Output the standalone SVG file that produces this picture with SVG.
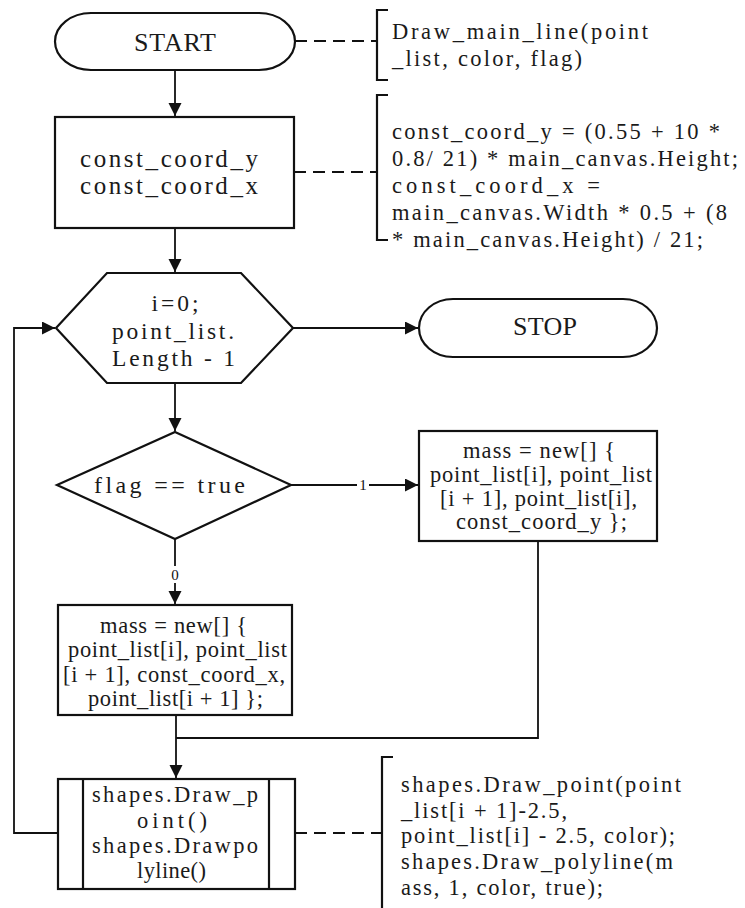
<svg xmlns="http://www.w3.org/2000/svg" width="745" height="908" viewBox="0 0 745 908">
<style>
  .shape { fill: #ffffff; stroke: #111111; stroke-width: 2.2; }
  .line { fill: none; stroke: #111111; stroke-width: 1.8; }
  .dash { fill: none; stroke: #111111; stroke-width: 2; stroke-dasharray: 12 7; }
  .brk { fill: none; stroke: #111111; stroke-width: 2.2; }
  .gap { fill: #ffffff; stroke: none; }
  text { font-family: "Liberation Serif", "Times New Roman", serif; fill: #1a1a1a; }
  .t26 { font-size: 26px; }
  .t25 { font-size: 25px; }
  .t24 { font-size: 24px; }
  .t23 { font-size: 23.5px; }
  .t22 { font-size: 22.5px; }
  .lbl { font-size: 15px; fill: #111111; }
  .mid { text-anchor: middle; }
</style>
<defs>
  <marker id="arrow" markerUnits="userSpaceOnUse" markerWidth="14" markerHeight="14" refX="13" refY="6.5" orient="auto">
    <path d="M0,0 L13,6.5 L0,13 z" fill="#111111"/>
  </marker>
</defs>
<rect width="745" height="908" fill="#ffffff"/>

<g id="connectors">
  <path class="line" d="M175,70 V116" marker-end="url(#arrow)"/>
  <path class="line" d="M175,228 V272" marker-end="url(#arrow)"/>
  <path class="line" d="M293,328 H418" marker-end="url(#arrow)"/>
  <path class="line" d="M175,383 V431" marker-end="url(#arrow)"/>
  <path class="line" d="M291,485 H418" marker-end="url(#arrow)"/>
  <rect class="gap" x="357" y="476" width="12" height="18"/>
  <text class="lbl mid" x="363" y="490">1</text>
  <path class="line" d="M175,539 V604" marker-end="url(#arrow)"/>
  <rect class="gap" x="168" y="566" width="14" height="17"/>
  <text class="lbl mid" x="175" y="580">0</text>
  <path class="line" d="M538,541 V738 H176"/>
  <path class="line" d="M176,715 V778" marker-end="url(#arrow)"/>
  <path class="line" d="M58,833 H14 V328 H55" marker-end="url(#arrow)"/>
  <path class="dash" d="M295,41 H377"/>
  <path class="dash" d="M294,172 H377"/>
  <path class="dash" d="M295,833 H382"/>
</g>

<g id="start">
  <rect class="shape" x="55" y="13" width="240" height="57" rx="36" ry="28.5"/>
  <text class="t26 mid" x="175" y="51" textLength="82" lengthAdjust="spacing">START</text>
</g>

<g id="note-start">
  <path class="brk" d="M388,10 H377 V80 H388"/>
  <text class="t22" x="392" y="39" textLength="256" lengthAdjust="spacing">Draw_main_line(point</text>
  <text class="t22" x="392" y="66" textLength="190" lengthAdjust="spacing">_list, color, flag)</text>
</g>

<g id="init">
  <rect class="shape" x="55" y="117" width="239" height="111"/>
  <text class="t25" x="80" y="167" textLength="178" lengthAdjust="spacing">const_coord_y</text>
  <text class="t25" x="80" y="194" textLength="178" lengthAdjust="spacing">const_coord_x</text>
</g>

<g id="note-init">
  <path class="brk" d="M388,95 H377 V240 H388"/>
  <text class="t22" x="392" y="139" textLength="328" lengthAdjust="spacing">const_coord_y = (0.55 + 10 *</text>
  <text class="t22" x="392" y="166" textLength="346" lengthAdjust="spacing">0.8/ 21) * main_canvas.Height;</text>
  <text class="t22" x="392" y="193" textLength="208" lengthAdjust="spacing">const_coord_x =</text>
  <text class="t22" x="392" y="220" textLength="335" lengthAdjust="spacing">main_canvas.Width * 0.5 + (8</text>
  <text class="t22" x="392" y="247" textLength="311" lengthAdjust="spacing">* main_canvas.Height) / 21;</text>
</g>

<g id="loop">
  <polygon class="shape" points="56,328 107,273 241,273 293,328 241,383 107,383"/>
  <text class="t23 mid" x="175" y="311" textLength="47" lengthAdjust="spacing">i=0;</text>
  <text class="t23 mid" x="173" y="339" textLength="122" lengthAdjust="spacing">point_list.</text>
  <text class="t23 mid" x="173.5" y="366" textLength="123" lengthAdjust="spacing">Length - 1</text>
</g>

<g id="stop">
  <rect class="shape" x="419" y="299" width="238" height="58" rx="34" ry="29"/>
  <text class="t26 mid" x="545" y="335" textLength="64" lengthAdjust="spacing">STOP</text>
</g>

<g id="flag-check">
  <polygon class="shape" points="175,432 291,485 175,539 57,485"/>
  <text class="t24" x="94" y="493" textLength="151" lengthAdjust="spacing">flag == true</text>
</g>

<g id="mass-true">
  <rect class="shape" x="419" y="431" width="238" height="110"/>
  <text class="t22 mid" x="539" y="458" textLength="152" lengthAdjust="spacing">mass = new[] {</text>
  <text class="t22 mid" x="541" y="482" textLength="222" lengthAdjust="spacing">point_list[i], point_list</text>
  <text class="t22 mid" x="538.5" y="506" textLength="197" lengthAdjust="spacing">[i + 1], point_list[i],</text>
  <text class="t22 mid" x="541.5" y="529" textLength="171" lengthAdjust="spacing">const_coord_y };</text>
</g>

<g id="mass-false">
  <rect class="shape" x="58" y="605" width="234" height="110"/>
  <text class="t22 mid" x="173.5" y="633" textLength="147" lengthAdjust="spacing">mass = new[] {</text>
  <text class="t22 mid" x="177.5" y="657" textLength="219" lengthAdjust="spacing">point_list[i], point_list</text>
  <text class="t22 mid" x="174" y="682" textLength="222" lengthAdjust="spacing">[i + 1], const_coord_x,</text>
  <text class="t22 mid" x="175.5" y="706" textLength="175" lengthAdjust="spacing">point_list[i + 1] };</text>
</g>

<g id="draw">
  <rect class="shape" x="58" y="779" width="237" height="110"/>
  <line class="shape" x1="83" y1="779" x2="83" y2="889"/>
  <line class="shape" x1="269" y1="779" x2="269" y2="889"/>
  <text class="t22 mid" x="175" y="802" textLength="166" lengthAdjust="spacing">shapes.Draw_p</text>
  <text class="t22 mid" x="172" y="828" textLength="70" lengthAdjust="spacing">oint()</text>
  <text class="t22 mid" x="175" y="853" textLength="166" lengthAdjust="spacing">shapes.Drawpo</text>
  <text class="t22 mid" x="171.5" y="878" textLength="69" lengthAdjust="spacing">lyline()</text>
</g>

<g id="note-draw">
  <path class="brk" d="M393,757 H382 V910"/>
  <text class="t22" x="401" y="792" textLength="280" lengthAdjust="spacing">shapes.Draw_point(point</text>
  <text class="t22" x="401" y="818" textLength="166" lengthAdjust="spacing">_list[i + 1]-2.5,</text>
  <text class="t22" x="401" y="843" textLength="274" lengthAdjust="spacing">point_list[i] - 2.5, color);</text>
  <text class="t22" x="401" y="869" textLength="272" lengthAdjust="spacing">shapes.Draw_polyline(m</text>
  <text class="t22" x="401" y="895" textLength="202" lengthAdjust="spacing">ass, 1, color, true);</text>
</g>
</svg>
